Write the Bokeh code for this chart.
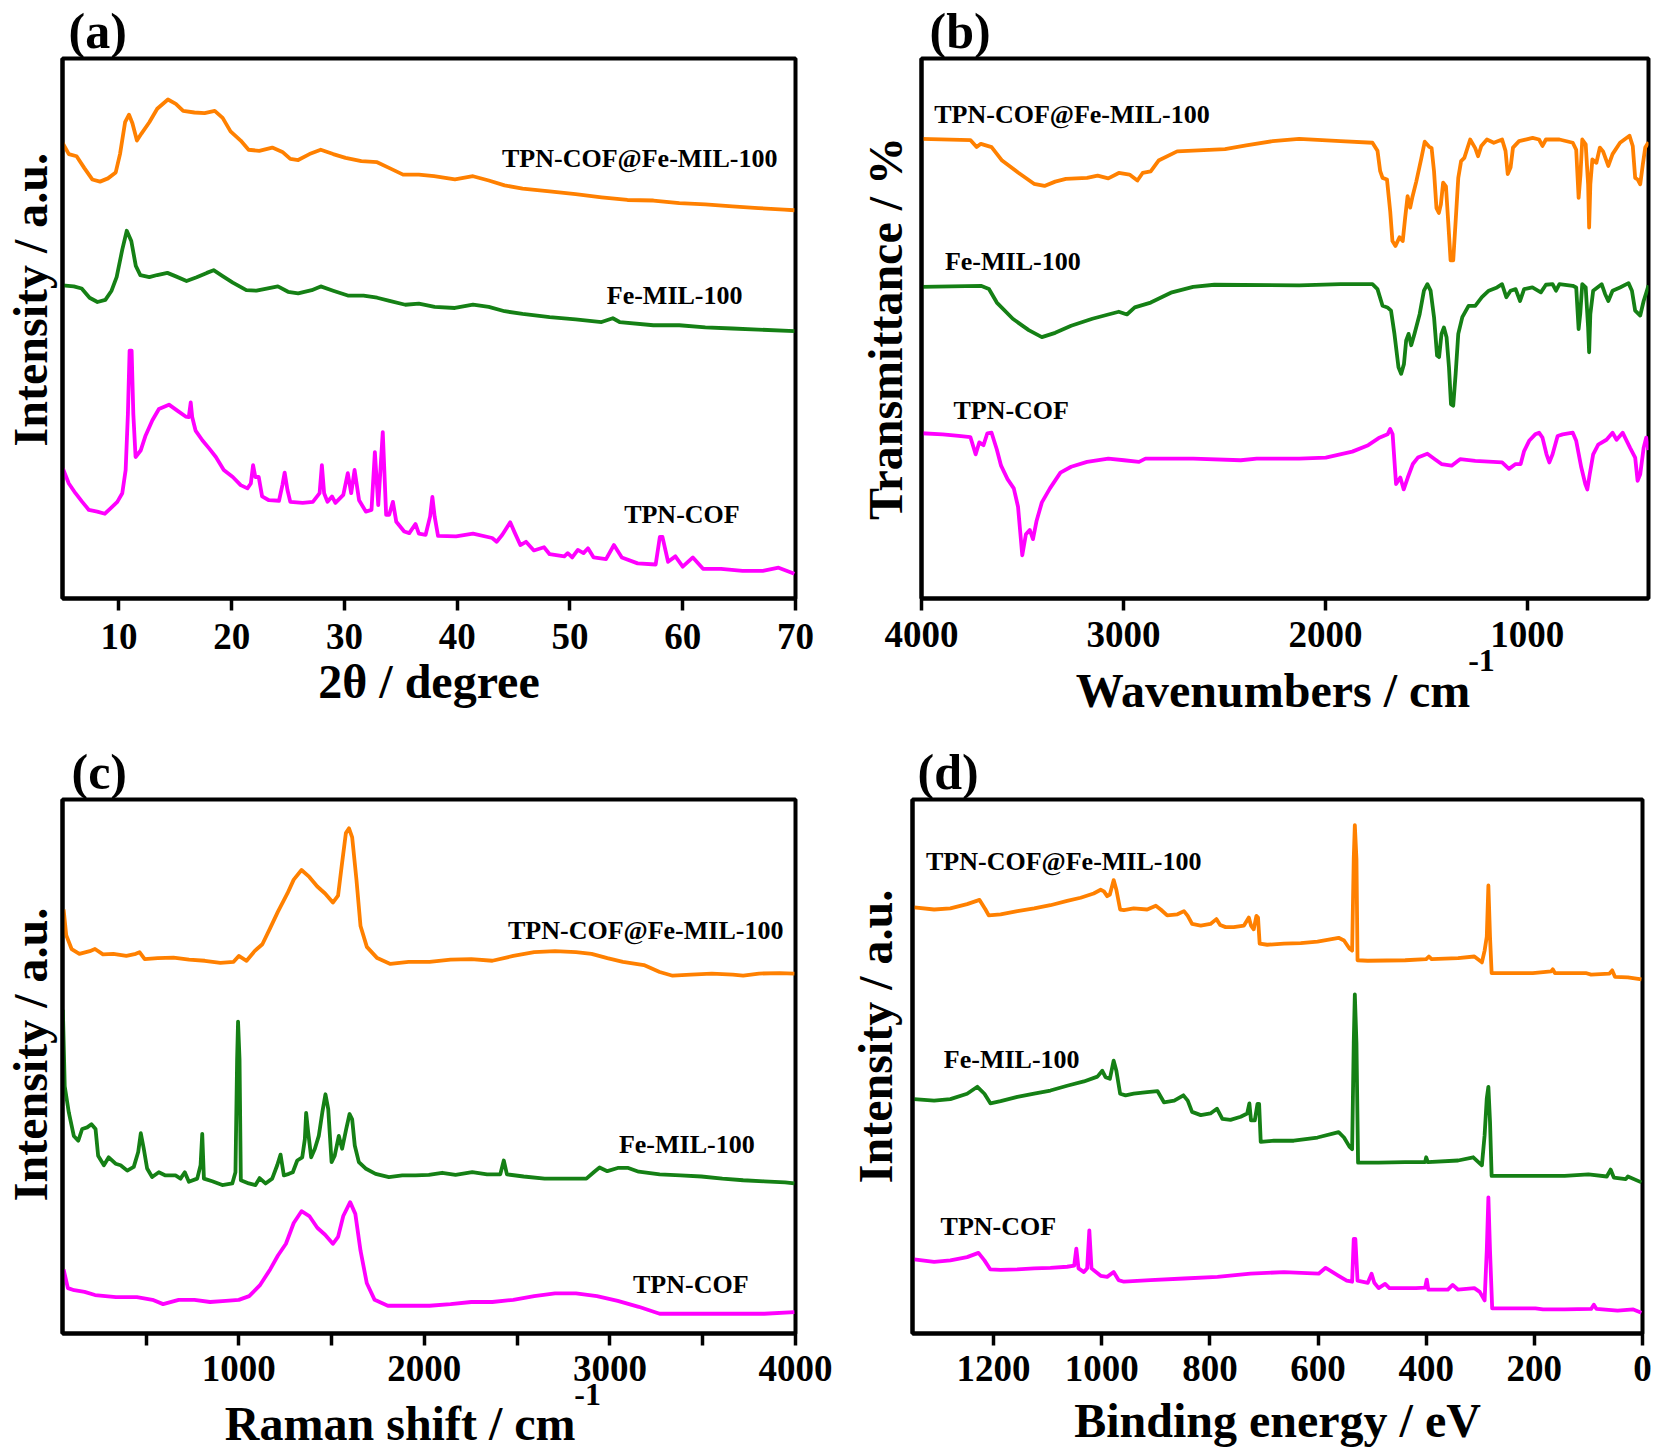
from bokeh.plotting import figure
from bokeh.models import Range1d, FixedTicker, LinearAxis
from bokeh.models import Label
from bokeh.layouts import row, column
from bokeh.embed import file_html
from bokeh.resources import INLINE

FONT = "Liberation Serif"
ORANGE = "#FF8000"
GREEN = "#158015"
MAGENTA = "#FF00FF"
SERIES_NAMES = ["TPN-COF@Fe-MIL-100", "Fe-MIL-100", "TPN-COF"]

# ---------------- (a) XRD : (2theta, relative intensity) ----------------
XRD_COMPOSITE = [(5.0,84.4),(5.56,82.3),(6.25,81.9),(6.94,79.7),(7.64,77.6),(8.33,77.2),(9.03,77.8),(9.72,78.9),(10.1,82.3),(10.55,88.2),
    (10.9,89.6),(11.2,88.0),(11.6,84.8),(12.0,86.1),(12.7,88.2),(13.4,90.7),(14.35,92.4),(15.05,91.6),(15.7,90.3),(16.7,90.0),
    (17.6,89.9),(18.5,90.3),(19.2,89.0),(19.9,86.5),(20.8,84.8),(21.5,83.1),(22.45,82.9),(23.6,83.5),(24.5,82.7),(25.2,81.4),
    (25.9,81.2),(26.9,82.3),(27.9,83.1),(29.0,82.3),(30.1,81.6),(31.5,81.0),(32.9,80.8),(34.0,79.7),(35.2,78.5),(36.6,78.5),
    (37.95,78.2),(39.8,77.6),(41.4,78.2),(42.8,77.4),(44.2,76.5),(45.8,75.9),(48.2,75.4),(50.5,74.9),(52.8,74.3),(55.1,73.8),
    (57.4,73.7),(59.7,73.2),(62.0,73.0),(64.4,72.6),(66.7,72.3),(69.0,72.0),(69.9,71.9)]
XRD_FEMIL = [(5,58.0),(6.0,57.8),(6.7,57.4),(7.4,55.7),(8.1,54.9),(8.8,55.3),(9.35,57.0),(9.8,59.5),(10.3,64.6),(10.7,68.1),
    (11.1,66.2),(11.5,61.6),(11.9,59.9),(12.7,59.5),(13.4,59.9),(14.3,60.3),(15.0,59.7),(16.0,58.8),(16.9,59.5),(17.8,60.3),
    (18.4,60.8),(19.2,59.7),(20.1,58.5),(21.3,57.1),(22.2,57.0),(23.1,57.4),(24.1,57.8),(25.0,56.8),(25.9,56.5),(27.1,57.1),
    (27.9,57.8),(29.0,57.0),(30.3,56.1),(31.7,56.1),(32.9,55.7),(34.0,55.1),(35.4,54.4),(36.6,54.6),(38.0,54.0),(39.8,53.8),
    (41.4,54.4),(42.8,54.0),(44.2,53.2),(45.8,52.7),(48.2,52.1),(50.5,51.7),(52.8,51.2),(53.8,51.9),(54.4,51.2),(57.4,50.6),
    (59.7,50.6),(62.0,50.2),(64.4,50.0),(66.7,49.8),(69.9,49.5)]
XRD_COF = [(5.03,24.1),(5.56,21.3),(6.15,19.5),(6.75,17.9),(7.34,16.4),(8.08,16.1),(8.76,15.7),(9.26,16.7),(9.86,17.9),(10.3,19.5),
    (10.6,23.8),(10.8,34.2),(10.95,45.9),(11.13,45.9),(11.28,34.2),(11.48,26.2),(11.93,27.4),(12.37,30.2),(12.97,33.0),(13.55,35.1),
    (14.44,35.9),(15.18,34.8),(15.92,33.7),(16.2,33.6),(16.37,36.3),(16.5,33.6),(16.8,31.1),(17.4,29.3),(18.0,27.8),(18.6,26.2),
    (19.3,23.8),(20.1,22.5),(20.8,21.0),(21.4,20.4),(21.7,21.3),(21.9,24.7),(22.1,22.5),(22.4,22.5),(22.7,18.9),(23.3,18.2),
    (24.2,18.1),(24.5,21.0),(24.7,23.3),(24.95,20.1),(25.2,17.9),(26.3,17.7),(27.2,17.9),(27.8,19.5),(28.0,24.7),(28.2,19.5),
    (28.5,17.9),(28.9,18.9),(29.2,17.7),(29.9,19.2),(30.3,23.2),(30.6,19.5),(30.9,23.8),(31.3,18.2),(31.9,16.1),(32.4,16.4),
    (32.7,27.1),(33.0,17.3),(33.4,30.8),(33.7,15.5),(33.97,15.5),(34.3,17.9),(34.6,14.2),(35.3,12.4),(35.75,12.1),(36.3,13.8),
    (36.6,12.0),(37.2,11.8),(37.6,15.2),(37.8,18.8),(38.0,15.2),(38.3,11.6),(39.9,11.5),(41.4,12.0),(43.1,11.2),(43.5,10.5),
    (44.0,11.8),(44.7,14.1),(45.1,12.2),(45.6,9.9),(46.1,10.5),(46.8,8.9),(47.7,9.5),(48.2,8.2),(49.5,7.8),(49.8,8.4),
    (50.2,7.6),(50.7,9.0),(51.2,8.4),(51.6,9.3),(52.1,7.6),(53.2,7.3),(53.9,9.9),(54.6,7.6),(56.0,6.5),(57.6,6.3),
    (57.97,11.4),(58.2,11.4),(58.7,6.8),(59.35,7.8),(60.0,5.9),(60.9,7.6),(61.8,5.5),(63.4,5.5),(65.3,5.1),(67.1,5.1),
    (68.5,5.7),(69.9,4.6)]
XRD_TICKS = [10, 20, 30, 40, 50, 60, 70]

# ---------------- (b) FTIR : (wavenumber, transmittance) ----------------
IR_COMPOSITE = [(4000,85.1),(3758,84.9),(3727,83.6),(3706,84.2),(3653,83.6),(3601,81.1),(3522,78.9),(3443,76.8),(3391,76.4),(3338,77.2),
    (3285,77.7),(3180,77.9),(3128,78.3),(3075,77.8),(3023,78.8),(2970,78.5),(2931,77.4),(2905,78.8),(2865,79.1),(2826,81.1),
    (2734,82.8),(2497,83.2),(2392,83.9),(2261,84.7),(2130,85.1),(1925,84.7),(1767,84.4),(1742,82.9),(1729,79.2),(1717,77.9),
    (1695,77.6),(1679,71.7),(1668,66.2),(1653,65.3),(1633,66.9),(1617,66.2),(1605,70.5),(1593,74.5),(1580,72.4),(1570,74.2),
    (1550,77.2),(1525,81.5),(1508,84.6),(1487,83.7),(1474,83.4),(1462,79.1),(1450,72.3),(1438,71.4),(1428,73.0),(1417,77.0),
    (1403,76.3),(1392,69.9),(1380,62.6),(1367,62.6),(1355,69.9),(1342,77.9),(1328,81.0),(1312,81.6),(1283,85.0),(1258,83.4),
    (1244,81.9),(1228,83.8),(1200,85.0),(1166,84.4),(1125,85.0),(1108,82.9),(1097,78.6),(1083,79.8),(1071,83.5),(1041,84.7),
    (974,85.3),(942,85.0),(925,83.8),(908,85.0),(841,85.0),(775,84.4),(758,83.1),(746,74.2),(737,78.4),(728,85.0),
    (711,84.1),(699,76.7),(694,68.7),(688,76.7),(678,81.3),(658,80.7),(641,83.5),(625,82.8),(599,80.1),(578,82.3),
    (541,84.4),(494,85.7),(478,83.8),(466,77.9),(454,77.6),(441,76.7),(428,80.4),(416,83.5),(400,84.5)]
IR_FEMIL = [(4000,57.7),(3706,57.9),(3666,57.3),(3627,54.8),(3548,51.8),(3469,49.7),(3404,48.4),(3338,49.2),(3259,50.5),(3154,51.8),
    (3075,52.6),(3023,53.1),(2983,52.6),(2944,53.9),(2865,54.8),(2760,56.7),(2655,57.7),(2550,58.1),(2130,58.0),(1925,58.2),
    (1767,58.2),(1742,57.3),(1717,54.2),(1693,53.9),(1675,53.3),(1658,49.0),(1638,42.8),(1625,41.6),(1611,43.4),(1600,47.8),
    (1588,49.0),(1575,46.9),(1559,49.0),(1533,52.7),(1512,57.0),(1495,58.2),(1479,57.0),(1462,52.1),(1447,45.0),(1437,44.7),
    (1425,49.0),(1413,50.2),(1400,48.4),(1388,42.8),(1378,36.0),(1367,35.7),(1355,41.6),(1342,49.0),(1322,52.1),(1291,54.2),
    (1258,54.2),(1225,55.8),(1191,57.0),(1150,57.6),(1125,58.2),(1104,55.8),(1083,57.0),(1058,57.3),(1036,55.1),(1016,57.3),
    (975,57.6),(933,56.7),(908,58.1),(875,58.2),(858,57.0),(841,58.2),(775,57.9),(758,57.6),(746,49.9),(738,52.7),
    (728,58.2),(711,57.6),(699,50.2),(694,45.6),(688,52.7),(674,57.0),(632,58.2),(615,56.4),(599,55.1),(578,57.0),
    (541,57.6),(499,58.4),(482,57.0),(466,53.3),(441,52.4),(424,55.1),(408,57.0),(400,58.0)]
IR_COF = [(4000,30.6),(3895,30.4),(3816,30.1),(3758,29.9),(3732,26.7),(3714,28.9),(3693,28.4),(3674,30.6),(3653,30.7),(3627,27.6),
    (3606,24.6),(3574,22.1),(3543,20.4),(3522,17.0),(3501,8.0),(3483,11.9),(3464,12.7),(3448,11.0),(3430,14.4),(3404,17.8),
    (3364,20.4),(3312,23.3),(3259,24.4),(3180,25.3),(3075,25.9),(2997,25.6),(2923,25.3),(2891,25.9),(2655,25.9),(2419,25.6),
    (2340,25.9),(2130,25.9),(1998,26.1),(1867,27.2),(1788,28.4),(1736,29.7),(1692,30.4),(1679,31.4),(1667,30.4),(1658,25.5),
    (1650,21.2),(1629,22.4),(1612,20.2),(1592,22.4),(1567,24.9),(1542,26.1),(1495,26.8),(1458,25.8),(1425,24.9),(1375,24.6),
    (1333,25.8),(1258,25.5),(1125,25.2),(1091,24.0),(1058,24.9),(1033,24.9),(1016,27.3),(991,29.2),(961,30.4),(942,30.7),
    (925,29.8),(905,26.7),(891,25.2),(875,26.7),(850,30.1),(825,30.4),(775,30.7),(758,29.2),(733,24.3),(713,21.2),
    (703,20.2),(691,23.0),(674,26.7),(649,28.5),(608,29.4),(578,30.7),(558,29.4),(528,30.7),(508,29.2),(491,27.9),
    (466,26.1),(454,21.8),(441,23.0),(424,27.9),(411,29.8),(400,27.5)]
IR_TICKS = [1000, 2000, 3000, 4000]

# ---------------- (c) Raman : (shift, intensity) ----------------
RAMAN_COMPOSITE = [(56,79.4),(70,74.6),(99,72.0),(141,71.1),(197,71.6),(225,72.0),(268,71.0),(324,71.1),(394,70.7),(445,71.1),
    (465,71.4),(493,70.1),(563,70.3),(648,70.4),(732,70.0),(817,69.8),(901,69.4),(972,69.6),(1000,70.7),(1042,69.8),
    (1085,71.6),(1127,72.9),(1169,75.9),(1211,79.0),(1262,82.4),(1296,85.0),(1338,86.8),(1380,85.5),(1423,83.7),(1465,82.4),
    (1507,80.7),(1535,82.0),(1555,87.7),(1577,93.7),(1594,94.6),(1611,92.9),(1634,85.0),(1656,76.3),(1690,72.4),(1746,70.3),
    (1817,69.2),(1915,69.6),(2028,69.6),(2141,70.0),(2253,70.1),(2366,69.8),(2479,70.7),(2592,71.4),(2704,71.6),(2817,71.4),
    (2901,71.1),(2986,70.3),(3070,69.6),(3183,69.0),(3268,67.7),(3338,67.0),(3437,67.2),(3549,67.4),(3662,67.2),(3718,67.0),
    (3803,67.4),(3915,67.5),(3994,67.4)]
RAMAN_FEMIL = [(52,60.6),(62,46.3),(84,41.4),(111,37.0),(135,36.1),(156,38.3),(183,38.6),(206,39.2),(228,38.3),(242,33.3),
    (273,31.5),(299,33.0),(336,31.8),(363,31.5),(399,30.5),(434,31.2),(458,34.0),(472,37.5),(488,34.6),(506,30.9),
    (533,29.3),(569,30.2),(605,29.6),(659,29.6),(686,29.0),(709,30.2),(731,28.4),(776,29.0),(794,31.5),(803,37.4),
    (812,29.0),(857,28.5),(911,27.8),(965,28.1),(982,30.2),(991,51.3),(996,58.4),(1004,51.3),(1011,28.7),(1054,28.1),
    (1090,27.8),(1112,29.1),(1144,28.1),(1180,29.0),(1207,31.5),(1225,33.5),(1243,29.6),(1270,29.9),(1291,30.2),(1315,32.4),
    (1342,33.0),(1356,36.4),(1363,41.3),(1374,37.7),(1390,33.0),(1410,34.6),(1431,37.0),(1450,41.4),(1467,44.8),(1482,42.0),
    (1500,32.1),(1517,33.3),(1539,37.0),(1557,34.6),(1579,38.3),(1597,41.1),(1611,40.1),(1625,35.2),(1647,32.1),(1683,30.9),
    (1737,29.9),(1809,29.3),(1881,29.6),(1952,29.6),(2024,29.7),(2096,30.1),(2168,29.7),(2258,30.2),(2338,29.8),(2409,29.8),
    (2428,32.4),(2445,29.8),(2535,29.4),(2648,29.0),(2761,29.0),(2873,29.0),(2916,30.3),(2944,31.1),(2986,30.4),(3042,31.0),
    (3099,31.0),(3155,30.3),(3268,29.8),(3380,29.6),(3493,29.4),(3606,29.0),(3718,28.7),(3831,28.5),(3944,28.3),(3994,28.1)]
RAMAN_COF = [(56,12.0),(79,8.5),(113,8.1),(169,7.8),(225,7.2),(338,6.8),(451,6.8),(535,6.3),(592,5.5),(676,6.3),
    (761,6.3),(845,5.9),(930,6.1),(1000,6.3),(1056,7.0),(1113,9.0),(1169,12.0),(1211,14.6),(1254,16.8),(1296,20.7),
    (1338,22.9),(1380,22.0),(1423,19.8),(1465,18.5),(1507,16.8),(1535,18.1),(1563,22.0),(1600,24.6),(1628,22.4),(1656,15.5),
    (1690,9.4),(1732,6.3),(1803,5.2),(1915,5.2),(2028,5.2),(2141,5.5),(2253,5.9),(2366,5.9),(2479,6.3),(2592,7.0),
    (2704,7.5),(2817,7.5),(2930,7.0),(3042,6.1),(3155,5.0),(3268,3.7),(3380,3.7),(3493,3.7),(3606,3.7),(3718,3.7),
    (3831,3.7),(3994,4.0)]
RAMAN_TICKS = [1000, 2000, 3000, 4000]
RAMAN_MINOR = [500, 1500, 2500, 3500]

# ---------------- (d) XPS : (binding energy, intensity) ----------------
XPS_COMPOSITE = [(1347,79.8),(1310,79.4),(1280,79.6),(1249,80.4),(1226,81.2),(1215,79.4),(1209,78.3),(1187,78.5),(1156,79.1),(1125,79.6),
    (1095,80.2),(1064,81.0),(1039,81.6),(1015,82.4),(1002,83.1),(996,82.8),(990,81.9),(985,82.2),(978,84.9),(973,83.1),
    (966,79.4),(959,79.3),(941,79.6),(916,79.4),(900,80.1),(891,79.4),(879,78.3),(860,78.5),(848,79.1),(841,78.2),
    (833,76.7),(817,76.4),(799,76.7),(788,77.6),(781,76.5),(771,76.1),(756,76.1),(737,76.4),(728,77.9),(724,76.4),
    (719,75.7),(714,78.2),(711,77.9),(708,73.0),(694,72.8),(663,73.0),(632,73.1),(601,73.4),(562,74.1),(552,73.6),
    (542,72.1),(537,71.7),(534,88.9),(532,95.2),(529,88.9),(527,69.9),(508,69.8),(439,69.9),(400,70.1),(395,70.6),
    (390,70.1),(341,70.3),(311,70.6),(297,69.5),(292,71.7),(288,74.3),(285,83.9),(282,74.3),(279,67.5),(243,67.5),
    (203,67.5),(169,67.8),(166,68.2),(162,67.5),(105,67.5),(95,67.2),(61,67.4),(56,68.0),(51,66.8),(27,66.7),(2,66.3)]
XPS_FEMIL = [(1347,43.9),(1310,43.6),(1280,43.9),(1249,44.9),(1230,46.2),(1217,44.9),(1206,43.1),(1187,43.5),(1156,44.3),(1125,44.9),
    (1095,45.5),(1064,46.4),(1033,47.2),(1008,48.1),(999,49.2),(993,48.0),(985,47.7),(978,51.1),(973,49.2),(966,44.9),
    (956,44.6),(941,44.9),(916,45.2),(897,45.4),(885,43.3),(866,43.6),(849,44.6),(841,43.6),(833,41.5),(817,40.9),
    (799,41.2),(787,42.1),(777,40.2),(762,40.0),(743,40.6),(731,41.2),(727,43.1),(724,39.9),(717,39.9),(712,43.0),
    (709,43.0),(706,35.9),(682,36.1),(645,36.1),(601,36.7),(562,37.7),(552,36.7),(542,35.0),(537,34.5),(534,54.4),
    (532,63.5),(529,54.4),(526,32.0),(488,32.0),(439,32.1),(402,32.1),(400,33.0),(397,32.1),(341,32.4),(313,33.0),
    (297,31.5),(292,37.1),(288,44.0),(285,46.2),(282,39.7),(279,29.5),(243,29.5),(203,29.5),(144,29.5),(100,29.8),
    (66,29.4),(59,30.7),(53,29.2),(31,28.9),(27,29.4),(2,28.3)]
XPS_COF = [(1347,13.9),(1310,13.4),(1280,13.7),(1249,14.3),(1228,15.1),(1217,13.7),(1206,12.0),(1187,11.9),(1156,12.0),(1125,12.2),
    (1095,12.3),(1064,12.5),(1051,12.7),(1047,15.9),(1043,12.2),(1033,11.5),(1027,12.2),(1023,19.3),(1019,12.2),(1002,10.8),
    (990,10.6),(978,11.5),(969,10.0),(959,9.7),(910,10.0),(848,10.3),(786,10.6),(725,11.2),(663,11.5),(599,11.2),
    (586,12.3),(562,10.8),(547,9.9),(537,9.7),(534,17.7),(531,17.7),(527,9.9),(508,9.5),(501,11.2),(496,9.5),
    (488,8.5),(476,9.3),(468,8.5),(439,8.5),(419,8.5),(402,8.6),(399,10.1),(396,8.2),(360,8.2),(351,9.1),
    (341,8.2),(311,8.5),(301,7.8),(292,6.2),(288,15.5),(285,25.5),(282,15.5),(278,4.7),(243,4.7),(198,4.7),
    (184,4.5),(144,4.5),(95,4.6),(90,5.4),(85,4.6),(46,4.3),(17,4.5),(2,3.9)]
XPS_TICKS = [0, 200, 400, 600, 800, 1000, 1200]

# superscript positions ("-1" of cm-1) on the x-axis scale of panels (b) and (c)
IR_SUP_X = 1227
RAMAN_SUP_X = 2880


def text_props(obj, prefix, size):
    setattr(obj, prefix + "_text_font", FONT)
    setattr(obj, prefix + "_text_font_style", "bold")
    setattr(obj, prefix + "_text_font_size", size)
    setattr(obj, prefix + "_text_color", "black")


def make_panel(tag, width, height, borders, x_range, ticks, minor, xlabel, ylabel,
               tick_standoff, xlabel_standoff, ylabel_standoff, tag_offset, tag_standoff):
    bl, br, bt, bb = borders
    p = figure(width=width, height=height, x_range=x_range, y_range=Range1d(0, 100),
               output_backend="svg", toolbar_location=None, title=tag,
               min_border_left=bl, min_border_right=br, min_border_top=bt, min_border_bottom=bb)
    p.xgrid.visible = False
    p.ygrid.visible = False
    p.outline_line_color = "black"
    p.outline_line_width = 4
    p.background_fill_color = "white"
    p.border_fill_color = "white"
    p.title.align = "left"
    p.title.offset = tag_offset
    p.title.standoff = tag_standoff
    p.title.text_font = FONT
    p.title.text_font_style = "bold"
    p.title.text_font_size = "50px"
    p.title.text_color = "black"
    ax = p.xaxis[0]
    ax.ticker = FixedTicker(ticks=ticks, minor_ticks=minor)
    ax.axis_line_width = 4
    ax.axis_line_color = "black"
    ax.major_tick_out = 12
    ax.major_tick_in = 0
    ax.minor_tick_out = 12
    ax.minor_tick_in = 0
    ax.major_tick_line_width = 3.5
    ax.minor_tick_line_width = 3.5
    ax.major_tick_line_color = "black"
    ax.minor_tick_line_color = "black"
    ax.major_label_standoff = tick_standoff
    text_props(ax, "major_label", "37px")
    if xlabel is not None:
        ax.axis_label = xlabel
        text_props(ax, "axis_label", "48px")
        ax.axis_label_standoff = xlabel_standoff
    ay = p.yaxis[0]
    ay.ticker = FixedTicker(ticks=[])
    ay.axis_line_width = 4
    ay.axis_line_color = "black"
    ay.major_tick_out = 0
    ay.major_tick_in = 0
    ay.minor_tick_out = 0
    ay.minor_tick_in = 0
    ay.major_label_standoff = 0
    ay.axis_label = ylabel
    text_props(ay, "axis_label", "48px")
    ay.axis_label_standoff = ylabel_standoff
    return p


def add_title_with_superscript(p, sup_x, title, sup_standoff, title_standoff):
    # second axis below the main one: carries the "-1" superscript and the axis title
    ax2 = LinearAxis(ticker=FixedTicker(ticks=[sup_x]), major_label_overrides={sup_x: "-1"})
    ax2.axis_line_color = None
    ax2.major_tick_line_color = None
    ax2.minor_tick_line_color = None
    ax2.major_tick_out = 0
    ax2.major_tick_in = 0
    ax2.minor_tick_out = 0
    ax2.minor_tick_in = 0
    ax2.major_label_standoff = sup_standoff
    text_props(ax2, "major_label", "32px")
    ax2.axis_label = title
    text_props(ax2, "axis_label", "48px")
    ax2.axis_label_standoff = title_standoff
    p.add_layout(ax2, "below")


def add_curve(p, pairs, color):
    xs = [a for a, b in pairs]
    ys = [b for a, b in pairs]
    p.line(xs, ys, line_color=color, line_width=3.8, line_join="round")


def add_text(p, x, y, text, align="left"):
    p.add_layout(Label(x=x, y=y, text=text, text_font=FONT, text_font_style="bold",
                       text_font_size="26px", text_color="black", text_align=align,
                       text_baseline="middle"))


TOP_H = 741
BOTTOM_H = 1452 - TOP_H

# (a)
pa = make_panel("(a)", 840, TOP_H, (62, 45, 56, TOP_H - 600), Range1d(5, 70), XRD_TICKS, [],
                "2θ / degree", "\u2003\u2009Intensity / a.u.", 13, 3, 6, 6, 0)
add_curve(pa, XRD_COMPOSITE, ORANGE)
add_curve(pa, XRD_FEMIL, GREEN)
add_curve(pa, XRD_COF, MAGENTA)
add_text(pa, 68.4, 81.4, SERIES_NAMES[0], align="right")
add_text(pa, 65.3, 56.1, SERIES_NAMES[1], align="right")
add_text(pa, 65.05, 15.6, SERIES_NAMES[2], align="right")

# (b)
pb = make_panel("(b)", 814, TOP_H, (81, 6, 57, TOP_H - 598), Range1d(4000, 400), IR_TICKS, [],
                None, "Transmittance / %", 11, 0, 10, 8, 0)
add_title_with_superscript(pb, IR_SUP_X, "Wavenumbers / cm\u2007", 0, -10)
add_curve(pb, IR_COMPOSITE, ORANGE)
add_curve(pb, IR_FEMIL, GREEN)
add_curve(pb, IR_COF, MAGENTA)
add_text(pb, 3937, 89.6, SERIES_NAMES[0])
add_text(pb, 3884, 62.4, SERIES_NAMES[1])
add_text(pb, 3842, 34.8, SERIES_NAMES[2])

# (c)
pc = make_panel("(c)", 840, BOTTOM_H, (62, 45, 798 - TOP_H, 1452 - 1336), Range1d(50, 4000),
                RAMAN_TICKS, RAMAN_MINOR, None, "\u2002Intensity / a.u.", 10, 0, 6, 9, 0)
add_title_with_superscript(pc, RAMAN_SUP_X, "Raman shift / cm\u2007\u2007\u2009", 0, -11)
add_curve(pc, RAMAN_COMPOSITE, ORANGE)
add_curve(pc, RAMAN_FEMIL, GREEN)
add_curve(pc, RAMAN_COF, MAGENTA)
add_text(pc, 3935, 75.5, SERIES_NAMES[0], align="right")
add_text(pc, 3780, 35.3, SERIES_NAMES[1], align="right")
add_text(pc, 3747, 9.2, SERIES_NAMES[2], align="right")

# (d)
pd = make_panel("(d)", 814, BOTTOM_H, (72, 12, 799 - TOP_H, 1452 - 1339), Range1d(1350, 0), XPS_TICKS, [],
                "Binding energy / eV", "\u2003\u2005Intensity / a.u.", 10, 10, 11, 5, 0)
add_curve(pd, XPS_COMPOSITE, ORANGE)
add_curve(pd, XPS_FEMIL, GREEN)
add_curve(pd, XPS_COF, MAGENTA)
add_text(pd, 1325, 88.3, SERIES_NAMES[0])
add_text(pd, 1292, 51.4, SERIES_NAMES[1])
add_text(pd, 1298, 20.0, SERIES_NAMES[2])

layout = column(row(pa, pb, spacing=0), row(pc, pd, spacing=0), spacing=0)
open("out.html", "w").write(file_html(layout, INLINE))
